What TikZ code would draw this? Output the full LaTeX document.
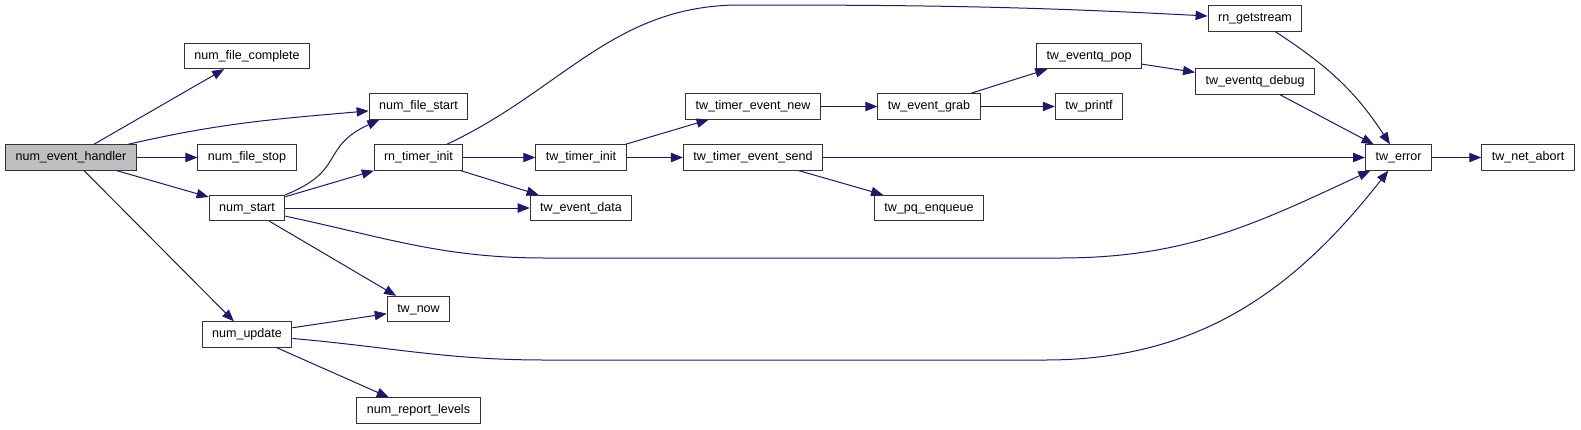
\documentclass[tikz,border=0pt]{standalone}
\usepackage{fontspec}
\setmainfont{Liberation Sans}
\usepackage{xcolor}
\usepackage{tikz}
\usetikzlibrary{arrows.meta}
\definecolor{edgeblue}{HTML}{191970}
\definecolor{rootgray}{HTML}{BFBFBF}

\begin{document}
\begin{tikzpicture}[
    x=0.75pt, y=-0.75pt,
    fn/.style={draw=black!80, rectangle, line width=0.75pt, fill=white, minimum height=19pt, inner xsep=7.5pt, inner ysep=0pt, text height=6.8pt, text depth=2.2pt, font=\fontsize{9.4}{11}\selectfont},
    root/.style={fn, fill=rootgray},
    call/.style={draw=edgeblue, line width=0.75pt, -{Triangle[length=9pt, width=7pt]}},
]
\useasboundingbox (0,0) rectangle (1581,429);

\node[root] (handler) at (71, 157.5) {num\_event\_handler};
\node[fn] (fcomplete) at (247, 56) {num\_file\_complete};
\node[fn] (fstop) at (247, 157.5) {num\_file\_stop};
\node[fn] (start) at (247, 208) {num\_start};
\node[fn] (update) at (247, 334.5) {num\_update};
\node[fn] (fstart) at (418.5, 106.5) {num\_file\_start};
\node[fn] (rtinit) at (418.5, 157.5) {rn\_timer\_init};
\node[fn] (now) at (418.5, 309) {tw\_now};
\node[fn] (report) at (418.5, 410.5) {num\_report\_levels};
\node[fn] (tinit) at (581, 157.5) {tw\_timer\_init};
\node[fn] (edata) at (581, 208) {tw\_event\_data};
\node[fn] (tnew) at (753, 106.5) {tw\_timer\_event\_new};
\node[fn] (tsend) at (753, 157.5) {tw\_timer\_event\_send};
\node[fn] (grab) at (929, 106.5) {tw\_event\_grab};
\node[fn] (pq) at (929, 208) {tw\_pq\_enqueue};
\node[fn] (pop) at (1089, 56) {tw\_eventq\_pop};
\node[fn] (printf) at (1089, 106.5) {tw\_printf};
\node[fn] (getstream) at (1255, 18.5) {rn\_getstream};
\node[fn] (debug) at (1255, 81.5) {tw\_eventq\_debug};
\node[fn] (err) at (1398.5, 157.5) {tw\_error};
\node[fn] (abort) at (1528, 157.5) {tw\_net\_abort};

\coordinate (g1) at (740, 5);
\coordinate (e1) at (545, 258);
\coordinate (e2) at (1060, 258);
\coordinate (u1) at (545, 360);
\coordinate (u2) at (1045, 360);

\draw[call] (handler) -- (fcomplete);
\draw[call] (handler) to[out=13, in=185] (fstart);
\draw[call] (handler) -- (fstop);
\draw[call] (handler) -- (start);
\draw[call] (handler) -- (update);
\draw[call] (start.north east) to[out=22, in=205, looseness=1.4] ([xshift=8pt]fstart.south west);
\draw[call] (start) -- (rtinit);
\draw[call] (start) -- (edata);
\draw[call] (start) -- (now);
\draw[call] (start) to[out=-12, in=180] (e1) -- (e2) to[out=0, in=205] (err);
\draw[call] (update) -- (now);
\draw[call] (update) to[out=-5, in=180] (u1) -- (u2) to[out=0, in=232] (err);
\draw[call] (update) -- (report);
\draw[call] (rtinit) to[out=25, in=180] (g1) to[out=0, in=177] (getstream);
\draw[call] (rtinit) -- (tinit);
\draw[call] (rtinit) -- (edata);
\draw[call] (tinit) -- (tnew);
\draw[call] (tinit) -- (tsend);
\draw[call] (tnew) -- (grab);
\draw[call] (tsend) -- (pq);
\draw[call] (tsend) -- (err);
\draw[call] (grab) -- (pop);
\draw[call] (grab) -- (printf);
\draw[call] (pop) -- (debug);
\draw[call] (debug) -- (err);
\draw[call] (getstream) to[out=-33, in=123] (err);
\draw[call] (err) -- (abort);
\end{tikzpicture}
\end{document}
